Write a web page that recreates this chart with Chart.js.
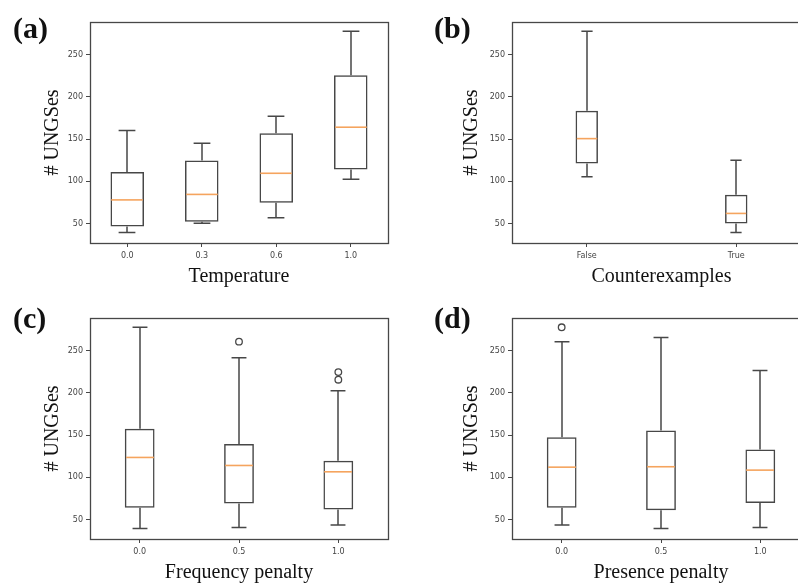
<!DOCTYPE html>
<html>
<head>
<meta charset="utf-8">
<script src="https://cdn.jsdelivr.net/npm/chart.js@4.4.1/dist/chart.umd.min.js"></script>
<style>
    html, body { margin: 0; padding: 0; background: #fff; }
    #page { position: relative; width: 798px; height: 583px; overflow: hidden; }
    #page canvas { position: absolute; }
    .tag { position: absolute; font-family: "Liberation Serif", "Times New Roman", serif; font-weight: bold; font-size: 30px; line-height: 30px; color: #111; }
</style>
</head>
<body>
<div id="page">
    <canvas id="chartA" width="400" height="290" style="left:0px; top:0px; width:400px; height:290px"></canvas>
    <canvas id="chartB" width="420" height="290" style="left:400px; top:0px; width:420px; height:290px"></canvas>
    <canvas id="chartC" width="400" height="293" style="left:0px; top:290px; width:400px; height:293px"></canvas>
    <canvas id="chartD" width="420" height="293" style="left:400px; top:290px; width:420px; height:293px"></canvas>
    <div class="tag" style="left:13px; top:13px">(a)</div>
    <div class="tag" style="left:434px; top:13px">(b)</div>
    <div class="tag" style="left:13px; top:303px">(c)</div>
    <div class="tag" style="left:434px; top:303px">(d)</div>
</div>
<script>
// (a) Temperature
var tempLabels = ['0.0', '0.3', '0.6', '1.0'];
var tempLow = [39.5, 50.5, 57, 102.5];
var tempQ1 = [46.5, 52, 74.5, 114];
var tempMedian = [78, 84.5, 109.5, 164];
var tempQ3 = [111, 124.5, 157, 225.5];
var tempHigh = [160, 145, 177, 277.5];
var tempOutliers = [[], [], [], []];

// (b) Counterexamples
var counterLabels = ['False', 'True'];
var counterLow = [105.5, 39.5];
var counterQ1 = [121, 50];
var counterMedian = [150.5, 62];
var counterQ3 = [183.5, 84];
var counterHigh = [277.5, 125];
var counterOutliers = [[], []];

// (c) Frequency penalty
var freqLabels = ['0.0', '0.5', '1.0'];
var freqLow = [39.5, 40.5, 43.5];
var freqQ1 = [64, 69, 62];
var freqMedian = [123.5, 114, 106.5];
var freqQ3 = [157.5, 139.5, 119.5];
var freqHigh = [277.5, 241.5, 202.5];
var freqOutliers = [[], [260.5], [224.5, 215.5]];

// (d) Presence penalty
var presLabels = ['0.0', '0.5', '1.0'];
var presLow = [43.5, 39.5, 40.5];
var presQ1 = [64, 61, 69.5];
var presMedian = [112, 112.5, 108.5];
var presQ3 = [147.5, 155.5, 133];
var presHigh = [260.5, 265.5, 226.5];
var presOutliers = [[277.5], [], []];

var yTicks = [50, 100, 150, 200, 250];
var MEDIAN_COLOR = '#f5a45e';
var LINE_COLOR = '#474747';

// draws whiskers, caps, medians and the axes frame
var boxPlotPlugin = {
    id: 'boxPlot',
    afterDatasetsDraw: function (chart) {
        var ctx = chart.ctx;
        var yScale = chart.scales.y;
        var ds = chart.data.datasets[0];
        var meta = chart.getDatasetMeta(0);
        ctx.save();
        meta.data.forEach(function (bar, i) {
            var x = Math.round(bar.x);
            var half = bar.width / 2;
            var yLow = yScale.getPixelForValue(ds.whiskerLow[i]);
            var yQ1 = yScale.getPixelForValue(ds.data[i][0]);
            var yQ3 = yScale.getPixelForValue(ds.data[i][1]);
            var yHigh = yScale.getPixelForValue(ds.whiskerHigh[i]);
            var yMed = yScale.getPixelForValue(ds.median[i]);
            ctx.strokeStyle = LINE_COLOR;
            ctx.lineWidth = 1.5;
            ctx.beginPath();
            ctx.moveTo(x, yQ1);
            ctx.lineTo(x, yLow);
            ctx.moveTo(x, yQ3);
            ctx.lineTo(x, yHigh);
            ctx.moveTo(x - half / 2, yLow);
            ctx.lineTo(x + half / 2, yLow);
            ctx.moveTo(x - half / 2, yHigh);
            ctx.lineTo(x + half / 2, yHigh);
            ctx.stroke();
            ctx.strokeStyle = MEDIAN_COLOR;
            ctx.lineWidth = 1.6;
            ctx.beginPath();
            ctx.moveTo(x - half + 1, yMed);
            ctx.lineTo(x + half - 1, yMed);
            ctx.stroke();
        });
        var a = chart.chartArea;
        ctx.strokeStyle = LINE_COLOR;
        ctx.lineWidth = 1.3;
        ctx.strokeRect(Math.round(a.left) + 0.5, Math.round(a.top) + 0.5,
            Math.round(a.right - a.left), Math.round(a.bottom - a.top));
        ctx.restore();
    }
};

function makeBoxChart(id, g, labels, low, q1, med, q3, high, outliers, boxWidth, xTitle) {
    var ctx = document.getElementById(id).getContext('2d');
    var outlierPoints = [];
    outliers.forEach(function (list, i) {
        list.forEach(function (v) {
            outlierPoints.push({ x: labels[i], y: v });
        });
    });
    var padLeft = g.yTitleX - 10;
    var padBottom = g.h - g.xTitleY - 10;

    return new Chart(ctx, {
        type: 'bar',
        data: {
            labels: labels,
            datasets: [{
                label: 'box',
                data: q1.map(function (v, i) { return [v, q3[i]]; }),
                whiskerLow: low,
                whiskerHigh: high,
                median: med,
                backgroundColor: 'rgba(0,0,0,0)',
                borderColor: LINE_COLOR,
                borderWidth: 1.5,
                borderSkipped: false,
                categoryPercentage: 1,
                barPercentage: boxWidth
            }, {
                type: 'line',
                label: 'outliers',
                data: outlierPoints,
                showLine: false,
                pointRadius: 3.3,
                pointBorderWidth: 1.3,
                pointBorderColor: LINE_COLOR,
                pointBackgroundColor: 'rgba(0,0,0,0)'
            }]
        },
        options: {
            responsive: false,
            animation: false,
            layout: {
                padding: { left: padLeft, top: g.top, right: g.w - g.right, bottom: padBottom }
            },
            plugins: {
                legend: { display: false },
                tooltip: { enabled: false }
            },
            scales: {
                x: {
                    grid: { display: true, drawOnChartArea: false, offset: false, tickLength: 4, color: LINE_COLOR },
                    border: { display: true, color: LINE_COLOR },
                    ticks: { color: '#444', padding: 4, font: { family: 'DejaVu Sans', size: 8 } },
                    title: {
                        display: true, text: xTitle, color: '#111', padding: { top: 0, bottom: 0 },
                        font: { family: 'Liberation Serif', size: 20, lineHeight: 1 }
                    },
                    afterFit: function (scale) { scale.height = g.h - g.bottom - padBottom; }
                },
                y: {
                    min: 27,
                    max: 288.5,
                    grid: { display: true, drawOnChartArea: false, tickLength: 4, color: LINE_COLOR },
                    border: { display: true, color: LINE_COLOR },
                    ticks: { color: '#444', padding: 3, font: { family: 'DejaVu Sans', size: 8 } },
                    afterBuildTicks: function (scale) {
                        scale.ticks = yTicks.map(function (v) { return { value: v }; });
                    },
                    title: {
                        display: true, text: '# UNGSes', color: '#111', padding: { top: 0, bottom: 0 },
                        font: { family: 'Liberation Serif', size: 20, lineHeight: 1 }
                    },
                    afterFit: function (scale) { scale.width = g.left - padLeft; }
                }
            }
        },
        plugins: [boxPlotPlugin]
    });
}

makeBoxChart('chartA', { w: 400, h: 290, left: 90, top: 22, right: 388, bottom: 243, yTitleX: 53, xTitleY: 277 },
    tempLabels, tempLow, tempQ1, tempMedian, tempQ3, tempHigh, tempOutliers, 0.45, 'Temperature');
makeBoxChart('chartB', { w: 420, h: 290, left: 112, top: 22, right: 411, bottom: 243, yTitleX: 72, xTitleY: 277 },
    counterLabels, counterLow, counterQ1, counterMedian, counterQ3, counterHigh, counterOutliers, 0.15, 'Counterexamples');
makeBoxChart('chartC', { w: 400, h: 293, left: 90, top: 28, right: 388, bottom: 249, yTitleX: 53, xTitleY: 283 },
    freqLabels, freqLow, freqQ1, freqMedian, freqQ3, freqHigh, freqOutliers, 0.3, 'Frequency penalty');
makeBoxChart('chartD', { w: 420, h: 293, left: 112, top: 28, right: 410, bottom: 249, yTitleX: 72, xTitleY: 283 },
    presLabels, presLow, presQ1, presMedian, presQ3, presHigh, presOutliers, 0.3, 'Presence penalty');
</script>
</body>
</html>
